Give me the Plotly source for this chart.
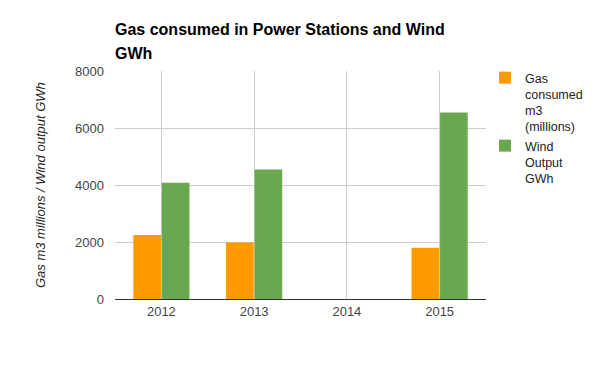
import plotly.graph_objects as go

years = ["2012", "2013", "2014", "2015"]
gas = [2250, 1980, None, 1800]
wind = [4080, 4540, None, 6540]
series_names = ["Gas<br>consumed<br>m3<br>(millions)", "Wind<br>Output<br>GWh"]
y_ticks = [0, 2000, 4000, 6000, 8000]
title_lines = ["Gas consumed in Power Stations and Wind", "GWh"]
y_title = "Gas m3 millions / Wind output GWh"

font_family = "Arial, Liberation Sans, sans-serif"

# plot area in pixels: left 115, right 486, top 71, bottom 299
def py2paper(py):
    return (299 - py) / 228

def px2paper(px):
    return (px - 115) / 371

fig = go.Figure()
fig.add_trace(go.Bar(x=years, y=gas, name=series_names[0], marker=dict(color="#ff9900", line=dict(width=0))))
fig.add_trace(go.Bar(x=years, y=wind, name=series_names[1], marker=dict(color="#6aa84f", line=dict(width=0))))

annotations = []
for i, line in enumerate(title_lines):
    annotations.append(dict(text="<b>%s</b>" % line, xref="paper", yref="paper",
                            x=px2paper(113), xanchor="left", y=py2paper(29.5 + 24 * i), yanchor="middle",
                            showarrow=False,
                            font=dict(size=16, color="#000000", family=font_family)))
annotations.append(dict(text="<i>%s</i>" % y_title, xref="paper", yref="paper",
                        x=px2paper(40), xanchor="center", y=0.5, yanchor="middle",
                        textangle=-90, showarrow=False,
                        font=dict(size=13, color="#222222", family=font_family)))

fig.update_layout(
    width=600, height=371,
    margin=dict(l=115, r=114, t=71, b=72, autoexpand=False),
    paper_bgcolor="white", plot_bgcolor="white",
    font=dict(family=font_family, size=13, color="#444444"),
    barmode="group", bargap=0.385, bargroupgap=0.03,
    showlegend=True,
    legend=dict(x=px2paper(485), xanchor="left", y=py2paper(63), yanchor="top",
                font=dict(size=12.5, color="#222222"), valign="top",
                tracegroupgap=0, itemwidth=30, bgcolor="rgba(0,0,0,0)"),
    annotations=annotations,
    xaxis=dict(type="category", showgrid=True, gridcolor="#cccccc", gridwidth=1,
               showline=True, linecolor="#333333", linewidth=1, automargin=False,
               ticks="", tickfont=dict(size=13, color="#444444")),
    yaxis=dict(range=[0, 8000], tickvals=y_ticks, ticktext=[str(v) for v in y_ticks],
               showgrid=True, gridcolor="#cccccc", gridwidth=1, automargin=False,
               zeroline=True, zerolinecolor="#333333", zerolinewidth=1,
               ticks="", ticklabelstandoff=10, tickfont=dict(size=13, color="#444444")),
)

fig.write_html("out.html", config={"displayModeBar": False},
               post_script="document.body.style.margin='0';")
